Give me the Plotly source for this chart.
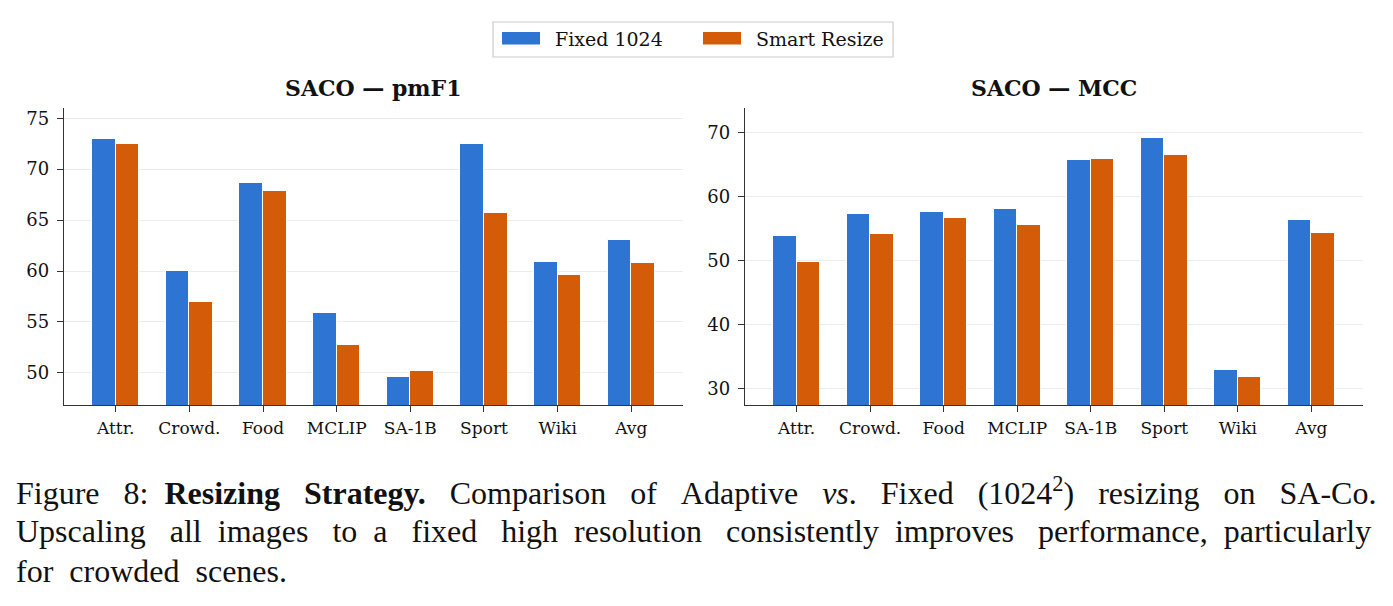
import plotly.graph_objects as go

W, H = 1393, 606

categories = ["Attr.", "Crowd.", "Food", "MCLIP", "SA-1B", "Sport", "Wiki", "Avg"]
series_names = ["Fixed 1024", "Smart Resize"]
pmf1_fixed = [73.0, 60.0, 68.6, 55.9, 49.6, 72.5, 60.9, 63.0]
pmf1_smart = [72.5, 57.0, 67.9, 52.7, 50.2, 65.7, 59.6, 60.8]
mcc_fixed = [53.8, 57.2, 57.5, 58.0, 65.7, 69.1, 32.9, 56.3]
mcc_smart = [49.7, 54.1, 56.6, 55.5, 65.8, 66.5, 31.8, 54.3]
pmf1_ticks = [50, 55, 60, 65, 70, 75]
mcc_ticks = [30, 40, 50, 60, 70]
titles = ["SACO — pmF1", "SACO — MCC"]

BLUE = "#2e74d3"
ORANGE = "#d45c08"
FONT = "DejaVu Serif"
AX = "#333333"

def px(x):
    return x / W

def py(y):
    return 1 - y / H

fig = go.Figure()
idx = list(range(len(categories)))

panels = [
    dict(fixed=pmf1_fixed, smart=pmf1_smart, ticks=pmf1_ticks, rng=[46.85, 76.0],
         x0=64, x1=683, xa="x", ya="y", title=titles[0]),
    dict(fixed=mcc_fixed, smart=mcc_smart, ticks=mcc_ticks, rng=[27.4, 73.8],
         x0=745, x1=1363, xa="x2", ya="y2", title=titles[1]),
]

yb, yt = 405, 108
bw = 0.32
for p in panels:
    for vals, col, off, name in [(p["fixed"], BLUE, -bw, series_names[0]),
                                 (p["smart"], ORANGE, 0.0, series_names[1])]:
        fig.add_trace(go.Bar(x=idx, y=vals, width=bw, offset=off, name=name,
                             marker=dict(color=col, line=dict(color="white", width=1)),
                             xaxis=p["xa"], yaxis=p["ya"], showlegend=False))

common_x = dict(tickmode="array", tickvals=idx, ticktext=categories, range=[-0.702, 7.702],
                showline=True, linecolor=AX, linewidth=1.3, ticks="outside", ticklen=6,
                tickcolor=AX, tickwidth=1.1, showgrid=False, zeroline=False,
                ticklabelstandoff=1,
                tickfont=dict(family=FONT, size=17, color="#111"))

def yaxis(p):
    return dict(domain=[py(yb), py(yt)], range=p["rng"], tickvals=p["ticks"],
                showline=True, linecolor=AX, linewidth=1.3, ticks="outside", ticklen=6,
                tickcolor=AX, tickwidth=1.1, showgrid=True, gridcolor="#ececec", gridwidth=1,
                zeroline=False, ticklabelstandoff=4,
                tickfont=dict(family=FONT, size=18, color="#111"))

fig.update_layout(
    width=W, height=H, margin=dict(l=0, r=0, t=0, b=0),
    paper_bgcolor="white", plot_bgcolor="white", barmode="overlay", bargap=0,
    xaxis=dict(domain=[px(64), px(683)], anchor="y", **common_x),
    yaxis=dict(anchor="x", **yaxis(panels[0])),
    xaxis2=dict(domain=[px(745), px(1363)], anchor="y2", **common_x),
    yaxis2=dict(anchor="x2", **yaxis(panels[1])),
)

ann = []
for p in panels:
    ann.append(dict(x=px((p["x0"] + p["x1"]) / 2), y=py(88), xref="paper", yref="paper",
                    text="<b>" + p["title"] + "</b>", showarrow=False,
                    font=dict(family=FONT, size=22, color="#111"),
                    xanchor="center", yanchor="middle"))

# manual legend
shapes = [dict(type="rect", xref="paper", yref="paper", x0=px(493), x1=px(893), y0=py(57), y1=py(22),
               line=dict(color="#cccccc", width=1.2), fillcolor="white")]
for (lx, col, tx, name) in [(502, BLUE, 553, series_names[0]), (703, ORANGE, 754, series_names[1])]:
    shapes.append(dict(type="rect", xref="paper", yref="paper", x0=px(lx), x1=px(lx + 38),
                       y0=py(44.5), y1=py(32), line=dict(width=0), fillcolor=col))
    ann.append(dict(x=px(tx), y=py(38.5), xref="paper", yref="paper", text=name, showarrow=False,
                    font=dict(family=FONT, size=19, color="#111"), xanchor="left", yanchor="middle"))

CAP = "Liberation Serif"
cap_words = [
    ["Figure", "8:", "<b>Resizing", "Strategy.</b>", "Comparison", "of", "Adaptive", "<i>vs</i>.",
     "Fixed", "(1024<sup>2</sup>)", "resizing", "on", "SA-Co."],
    ["Upscaling", "all", "images", "to", "a", "fixed", "high", "resolution", "consistently",
     "improves", "performance,", "particularly"],
    ["for", "crowded", "scenes."],
]
extra = [
    [2, 1, 2, 2, 2, 2, 2, 2, 2, 2, 2, 2],
    [2, 1, 2, 1, 2, 2, 1, 2, 1, 2, 1],
    [1, 1],
]

def justify(words, ex):
    out = words[0]
    for w, k in zip(words[1:], ex):
        out += " " + "\u00a0" * k + w
    return out

for i, (words, ex) in enumerate(zip(cap_words, extra)):
    ann.append(dict(x=px(14), y=py(491 + 40 * i), xref="paper", yref="paper", text=justify(words, ex),
                    showarrow=False, font=dict(family=CAP, size=32, color="#111"),
                    xanchor="left", yanchor="middle"))

fig.update_layout(annotations=ann, shapes=shapes)
fig.write_html("out.html")
